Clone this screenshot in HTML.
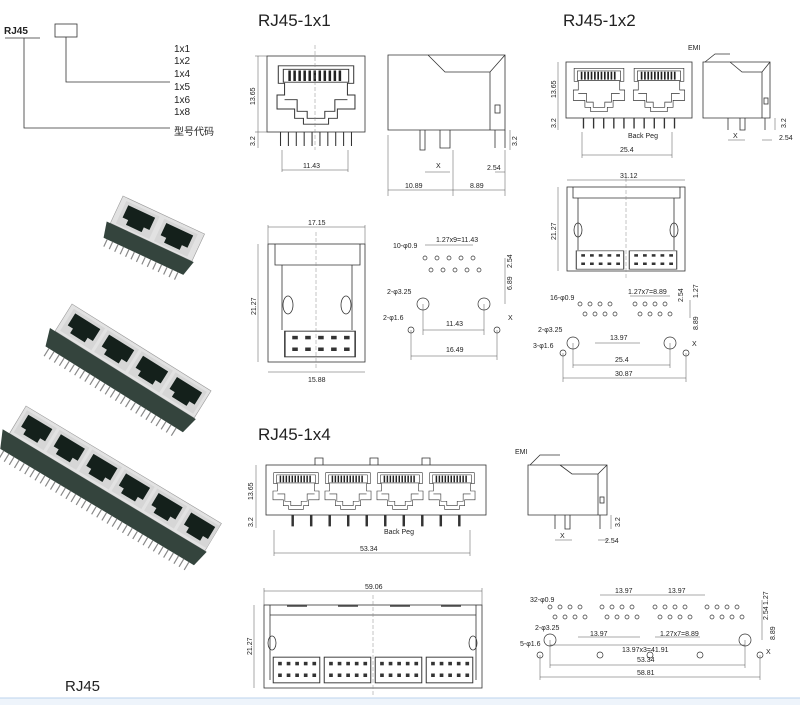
<!DOCTYPE html>
<html><head><meta charset="utf-8"><style>
html,body{margin:0;padding:0;background:#fff;width:800px;height:705px;overflow:hidden}
text{font-family:"Liberation Sans","Noto Sans CJK SC",sans-serif;fill:#222}
.l{stroke:#333;stroke-width:0.8;fill:none}
.t{stroke:#555;stroke-width:0.5;fill:none}
.c{stroke:#888;stroke-width:0.5;stroke-dasharray:4 2;fill:none}
.s{font-size:7px}
</style></head><body>
<svg width="800" height="705" viewBox="0 0 800 705" xmlns="http://www.w3.org/2000/svg">
<defs>
<symbol id="jack" viewBox="0 0 70 60" preserveAspectRatio="none">
 <path class="l" d="M5 5H65V20H60V30H66V42H52V50H45V55H25V50H18V42H4V30H10V20H5Z"/>
 <path class="l" d="M9 8H61V19H9Z"/>
 <path d="M14 9v9M18 9v9M22 9v9M26 9v9M30 9v9M34 9v9M38 9v9M42 9v9M46 9v9M50 9v9M54 9v9" stroke="#222" stroke-width="2"/>
 <path class="l" d="M10 34H20V44H28V50H42V44H50V34H60"/>
</symbol>
<symbol id="pins" viewBox="0 0 70 16" preserveAspectRatio="none">
 <path d="M8 0v14M14 0v14M20 0v14M26 0v14M32 0v14M38 0v14M44 0v14M50 0v14M56 0v14M62 0v14" stroke="#333" stroke-width="0.8"/>
</symbol>
<symbol id="cav" viewBox="0 0 30 24" preserveAspectRatio="none">
 <rect x="0" y="0" width="30" height="24" fill="#d6d6d6"/>
 <path d="M3 3H27V16H22V21H8V16H3Z" fill="#14201b"/>
</symbol>
<symbol id="pad" viewBox="0 0 40 24" preserveAspectRatio="none">
 <rect class="l" x="1" y="1" width="38" height="22"/>
 <g fill="#333"><rect x="5" y="5" width="3" height="3"/><rect x="12" y="5" width="3" height="3"/><rect x="19" y="5" width="3" height="3"/><rect x="26" y="5" width="3" height="3"/><rect x="33" y="5" width="3" height="3"/>
 <rect x="5" y="15" width="3" height="3"/><rect x="12" y="15" width="3" height="3"/><rect x="19" y="15" width="3" height="3"/><rect x="26" y="15" width="3" height="3"/><rect x="33" y="15" width="3" height="3"/></g>
</symbol>
</defs>

<!-- code tree -->
<text x="4" y="34" font-size="10" font-weight="bold" font-family="Liberation Serif">RJ45</text>
<path class="l" d="M5 38H40"/>
<rect class="l" x="55" y="24" width="22" height="13"/>
<path class="l" d="M66 37V82H170M24 38V128H170"/>
<g font-size="10"><text x="174" y="52">1x1</text><text x="174" y="64">1x2</text><text x="174" y="77">1x4</text><text x="174" y="90">1x5</text><text x="174" y="103">1x6</text><text x="174" y="115">1x8</text><text x="174" y="135">型号代码</text></g>

<text x="258" y="26" font-size="17">RJ45-1x1</text>
<text x="563" y="26" font-size="17">RJ45-1x2</text>
<text x="258" y="440" font-size="17">RJ45-1x4</text>
<text x="65" y="691" font-size="15">RJ45</text>

<!-- photos -->
<g transform="translate(123,196) rotate(25)">
 <rect x="0" y="0" width="90" height="30" fill="#e2e2e2" stroke="#999" stroke-width="0.6"/>
 <use href="#cav" x="5" y="3" width="37" height="25"/><use href="#cav" x="47" y="3" width="37" height="25"/>
 <path d="M-4 30H92L88 46H0Z" fill="#34443d"/>
 <path d="M4 46v8M10 46v8M16 46v8M22 46v8M28 46v8M34 46v8M40 46v8M46 46v8M52 46v8M58 46v8M64 46v8M70 46v8M76 46v8M82 46v8" stroke="#888" stroke-width="1.2"/>
</g>
<g transform="translate(72,304) rotate(32)">
 <rect x="0" y="0" width="164" height="32" fill="#e2e2e2" stroke="#999" stroke-width="0.6"/>
 <use href="#cav" x="4" y="3" width="37" height="26"/><use href="#cav" x="44" y="3" width="37" height="26"/><use href="#cav" x="84" y="3" width="37" height="26"/><use href="#cav" x="124" y="3" width="37" height="26"/>
 <path d="M-6 32H166L162 50H0Z" fill="#34443d"/>
 <path d="M4 50v9M10 50v9M16 50v9M22 50v9M28 50v9M34 50v9M40 50v9M46 50v9M52 50v9M58 50v9M64 50v9M70 50v9M76 50v9M82 50v9M88 50v9M94 50v9M100 50v9M106 50v9M112 50v9M118 50v9M124 50v9M130 50v9M136 50v9M142 50v9M148 50v9M154 50v9" stroke="#888" stroke-width="1.2"/>
</g>
<g transform="translate(26,406) rotate(31)">
 <rect x="0" y="0" width="228" height="32" fill="#e2e2e2" stroke="#999" stroke-width="0.6"/>
 <use href="#cav" x="3" y="3" width="35" height="26"/><use href="#cav" x="41" y="3" width="35" height="26"/><use href="#cav" x="79" y="3" width="35" height="26"/><use href="#cav" x="117" y="3" width="35" height="26"/><use href="#cav" x="155" y="3" width="35" height="26"/><use href="#cav" x="193" y="3" width="35" height="26"/>
 <path d="M-8 32H230L226 50H0Z" fill="#34443d"/>
 <path d="M4 50v9M10 50v9M16 50v9M22 50v9M28 50v9M34 50v9M40 50v9M46 50v9M52 50v9M58 50v9M64 50v9M70 50v9M76 50v9M82 50v9M88 50v9M94 50v9M100 50v9M106 50v9M112 50v9M118 50v9M124 50v9M130 50v9M136 50v9M142 50v9M148 50v9M154 50v9M160 50v9M166 50v9M172 50v9M178 50v9M184 50v9M190 50v9M196 50v9M202 50v9M208 50v9M214 50v9M220 50v9" stroke="#888" stroke-width="1.2"/>
</g>

<!-- 1x1 front -->
<rect class="l" x="267" y="56" width="98" height="76"/>
<use href="#jack" x="272" y="60" width="88" height="70"/>
<use href="#pins" x="270" y="132" width="92" height="16"/>
<path class="c" d="M315 45V150"/>
<path class="t" d="M258 56V132M258 132V148M255 56H267M255 132H267M282 150V172M348 150V172M282 170H348"/>
<text class="s" x="303" y="168">11.43</text>
<text class="s" transform="translate(255,105) rotate(-90)">13.65</text>
<text class="s" transform="translate(255,146) rotate(-90)">3.2</text>
<!-- 1x1 side -->
<path class="l" d="M388 55H505V130H388Z M428 55L445 72H490L505 55 M490 72V130"/>
<rect class="l" x="495" y="105" width="5" height="8"/>
<path class="l" d="M420 130v20h5v-20M440 130v18h10v-18M495 130v18M505 130v18"/>
<path class="t" d="M388 135V196M453 150V196M505 150V196M388 190H505M425 172H450M495 172H505M510 130V150"/>
<text class="s" x="405" y="188">10.89</text><text class="s" x="470" y="188">8.89</text>
<text class="s" x="436" y="168">X</text><text class="s" x="487" y="170">2.54</text>
<text class="s" transform="translate(517,146) rotate(-90)">3.2</text>

<!-- 1x1 bottom -->
<rect class="l" x="268" y="244" width="97" height="118"/>
<path class="l" d="M275 244V265H360V244M282 265V330M352 265V330"/>
<ellipse class="l" cx="288" cy="305" rx="5" ry="9"/><ellipse class="l" cx="346" cy="305" rx="5" ry="9"/>
<use href="#pad" x="283" y="330" width="74" height="28"/>
<path class="c" d="M316 232V370"/>
<path class="t" d="M268 227H365M268 225V244M365 225V244M268 372H365M258 244V362"/>
<text class="s" x="308" y="225">17.15</text><text class="s" x="308" y="382">15.88</text>
<text class="s" transform="translate(256,315) rotate(-90)">21.27</text>
<!-- 1x1 footprint -->
<g fill="none" stroke="#333" stroke-width="0.7">
<circle cx="425" cy="258" r="2"/><circle cx="437" cy="258" r="2"/><circle cx="449" cy="258" r="2"/><circle cx="461" cy="258" r="2"/><circle cx="473" cy="258" r="2"/>
<circle cx="431" cy="270" r="2"/><circle cx="443" cy="270" r="2"/><circle cx="455" cy="270" r="2"/><circle cx="467" cy="270" r="2"/><circle cx="479" cy="270" r="2"/>
<circle cx="423" cy="304" r="6"/><circle cx="484" cy="304" r="6"/><circle cx="411" cy="330" r="3"/><circle cx="497" cy="330" r="3"/></g>
<path class="t" d="M423 304V335M484 304V335M423 330H484M411 330V360M497 330V360M411 356H497M425 245H473M505 258V270M505 270V304"/>
<text class="s" x="436" y="242">1.27x9=11.43</text><text class="s" x="393" y="248">10-φ0.9</text>
<text class="s" x="387" y="294">2-φ3.25</text><text class="s" x="383" y="320">2-φ1.6</text>
<text class="s" x="446" y="326">11.43</text><text class="s" x="446" y="352">16.49</text>
<text class="s" transform="translate(512,268) rotate(-90)">2.54</text><text class="s" transform="translate(512,290) rotate(-90)">6.89</text>
<text class="s" x="508" y="320">X</text>

<!-- 1x2 front -->
<rect class="l" x="566" y="62" width="126" height="56"/>
<use href="#jack" x="570" y="64" width="58" height="52"/><use href="#jack" x="630" y="64" width="58" height="52"/>
<use href="#pins" x="570" y="118" width="118" height="12"/>
<path class="t" d="M558 62V118M558 118V130M582 132V158M672 132V158M582 155H672"/>
<text class="s" x="620" y="152">25.4</text><text class="s" x="628" y="138">Back Peg</text>
<text class="s" transform="translate(556,98) rotate(-90)">13.65</text>
<text class="s" transform="translate(556,128) rotate(-90)">3.2</text>
<!-- 1x2 side -->
<path class="l" d="M703 62H770V118H703Z M730 62L742 72H762L770 62M762 72V118"/>
<rect class="l" x="764" y="98" width="4" height="6"/>
<path class="l" d="M705 62L715 54H730M728 118v12M740 118v12h5v-12M765 118v12"/>
<path class="t" d="M728 140H745M762 140H772M775 118V130"/>
<text class="s" x="688" y="50">EMI</text><text class="s" x="733" y="138">X</text><text class="s" x="779" y="140">2.54</text>
<text class="s" transform="translate(786,128) rotate(-90)">3.2</text>

<!-- 1x2 bottom -->
<rect class="l" x="567" y="187" width="118" height="84"/>
<path class="l" d="M573 187V198H680V187M578 198V250M674 198V250"/>
<ellipse class="l" cx="578" cy="230" rx="4" ry="7"/><ellipse class="l" cx="674" cy="230" rx="4" ry="7"/>
<use href="#pad" x="575" y="250" width="50" height="20"/><use href="#pad" x="628" y="250" width="50" height="20"/>
<path class="c" d="M626 178V278"/>
<path class="t" d="M567 180H685M558 187V271"/>
<text class="s" x="620" y="178">31.12</text>
<text class="s" transform="translate(556,240) rotate(-90)">21.27</text>
<!-- 1x2 footprint -->
<g fill="none" stroke="#333" stroke-width="0.7">
<circle cx="580" cy="304" r="2"/><circle cx="590" cy="304" r="2"/><circle cx="600" cy="304" r="2"/><circle cx="610" cy="304" r="2"/><circle cx="585" cy="314" r="2"/><circle cx="595" cy="314" r="2"/><circle cx="605" cy="314" r="2"/><circle cx="615" cy="314" r="2"/>
<circle cx="635" cy="304" r="2"/><circle cx="645" cy="304" r="2"/><circle cx="655" cy="304" r="2"/><circle cx="665" cy="304" r="2"/><circle cx="640" cy="314" r="2"/><circle cx="650" cy="314" r="2"/><circle cx="660" cy="314" r="2"/><circle cx="670" cy="314" r="2"/>
<circle cx="573" cy="343" r="6"/><circle cx="670" cy="343" r="6"/><circle cx="563" cy="353" r="3"/><circle cx="686" cy="353" r="3"/></g>
<path class="t" d="M595 343H640M573 365H670M563 378H686M573 343V368M670 343V368M563 353V382M686 353V382M630 296H670M690 300V318"/>
<text class="s" x="628" y="294">1.27x7=8.89</text><text class="s" x="550" y="300">16-φ0.9</text>
<text class="s" x="538" y="332">2-φ3.25</text><text class="s" x="533" y="348">3-φ1.6</text>
<text class="s" x="610" y="340">13.97</text><text class="s" x="615" y="362">25.4</text><text class="s" x="615" y="376">30.87</text>
<text class="s" transform="translate(698,298) rotate(-90)">1.27</text><text class="s" transform="translate(683,302) rotate(-90)">2.54</text>
<text class="s" transform="translate(698,330) rotate(-90)">8.89</text><text class="s" x="692" y="346">X</text>

<!-- 1x4 front -->
<rect class="l" x="266" y="465" width="220" height="50"/>
<path class="l" d="M315 465v-7h8v7M370 465v-7h8v7M422 465v-7h8v7"/>
<use href="#jack" x="270" y="469" width="52" height="44"/><use href="#jack" x="322" y="469" width="52" height="44"/><use href="#jack" x="374" y="469" width="52" height="44"/><use href="#jack" x="426" y="469" width="52" height="44"/>
<use href="#pins" x="268" y="515" width="216" height="13"/>
<path class="t" d="M256 465V515M256 515V528M274 530V556M470 530V556M274 553H470"/>
<text class="s" x="360" y="551">53.34</text><text class="s" x="384" y="534">Back Peg</text>
<text class="s" transform="translate(253,500) rotate(-90)">13.65</text>
<text class="s" transform="translate(253,527) rotate(-90)">3.2</text>
<!-- 1x4 side -->
<path class="l" d="M528 465H607V515H528Z M560 465L572 474H598L607 465M598 474V515"/>
<rect class="l" x="600" y="497" width="4" height="6"/>
<path class="l" d="M530 465L540 455H560M555 515v14M565 515v14h5v-14M600 515v14"/>
<path class="t" d="M555 540H572M598 540H608M611 515V529"/>
<text class="s" x="515" y="454">EMI</text><text class="s" x="560" y="538">X</text><text class="s" x="605" y="543">2.54</text>
<text class="s" transform="translate(620,527) rotate(-90)">3.2</text>

<!-- 1x4 bottom -->
<rect class="l" x="264" y="605" width="218" height="83"/>
<path class="l" d="M270 605V615H476V605M270 615V680M476 615V680"/>
<path d="M287 606H307M338 606H358M390 606H410M441 606H461" stroke="#444" stroke-width="1.5"/>
<ellipse class="l" cx="272" cy="643" rx="4" ry="7"/><ellipse class="l" cx="473" cy="643" rx="4" ry="7"/>
<use href="#pad" x="272" y="656" width="49" height="28"/><use href="#pad" x="323" y="656" width="49" height="28"/><use href="#pad" x="374" y="656" width="49" height="28"/><use href="#pad" x="425" y="656" width="49" height="28"/>
<path class="c" d="M373 595V695"/>
<path class="t" d="M264 591H482M264 588V605M482 588V605M254 605V688"/>
<text class="s" x="365" y="589">59.06</text>
<text class="s" transform="translate(252,655) rotate(-90)">21.27</text>
<!-- 1x4 footprint -->
<g fill="none" stroke="#333" stroke-width="0.7">
<circle cx="550" cy="607" r="2"/><circle cx="560" cy="607" r="2"/><circle cx="570" cy="607" r="2"/><circle cx="580" cy="607" r="2"/><circle cx="555" cy="617" r="2"/><circle cx="565" cy="617" r="2"/><circle cx="575" cy="617" r="2"/><circle cx="585" cy="617" r="2"/>
<circle cx="602" cy="607" r="2"/><circle cx="612" cy="607" r="2"/><circle cx="622" cy="607" r="2"/><circle cx="632" cy="607" r="2"/><circle cx="607" cy="617" r="2"/><circle cx="617" cy="617" r="2"/><circle cx="627" cy="617" r="2"/><circle cx="637" cy="617" r="2"/>
<circle cx="655" cy="607" r="2"/><circle cx="665" cy="607" r="2"/><circle cx="675" cy="607" r="2"/><circle cx="685" cy="607" r="2"/><circle cx="660" cy="617" r="2"/><circle cx="670" cy="617" r="2"/><circle cx="680" cy="617" r="2"/><circle cx="690" cy="617" r="2"/>
<circle cx="707" cy="607" r="2"/><circle cx="717" cy="607" r="2"/><circle cx="727" cy="607" r="2"/><circle cx="737" cy="607" r="2"/><circle cx="712" cy="617" r="2"/><circle cx="722" cy="617" r="2"/><circle cx="732" cy="617" r="2"/><circle cx="742" cy="617" r="2"/>
<circle cx="550" cy="640" r="6"/><circle cx="745" cy="640" r="6"/><circle cx="540" cy="655" r="3"/><circle cx="760" cy="655" r="3"/>
<circle cx="600" cy="655" r="3"/><circle cx="650" cy="655" r="3"/><circle cx="700" cy="655" r="3"/></g>
<path class="t" d="M550 640V668M745 640V668M550 665H745M540 655V680M760 655V680M540 677H760M550 645H745M600 595H650M650 595H705M578 637H640M655 637H700M762 600V620M762 620V640"/>
<text class="s" x="615" y="593">13.97</text><text class="s" x="668" y="593">13.97</text><text class="s" x="530" y="602">32-φ0.9</text>
<text class="s" x="535" y="630">2-φ3.25</text><text class="s" x="520" y="646">5-φ1.6</text>
<text class="s" x="590" y="636">13.97</text><text class="s" x="660" y="636">1.27x7=8.89</text>
<text class="s" x="622" y="652">13.97x3=41.91</text><text class="s" x="637" y="662">53.34</text><text class="s" x="637" y="675">58.81</text>
<text class="s" transform="translate(768,605) rotate(-90)">1.27</text><text class="s" transform="translate(768,620) rotate(-90)">2.54</text>
<text class="s" transform="translate(775,640) rotate(-90)">8.89</text><text class="s" x="766" y="654">X</text>

<rect x="0" y="698" width="800" height="7" fill="#eef4fb"/>
<path d="M0 698H800" stroke="#bcd3ee" stroke-width="1"/>
</svg>
</body></html>
